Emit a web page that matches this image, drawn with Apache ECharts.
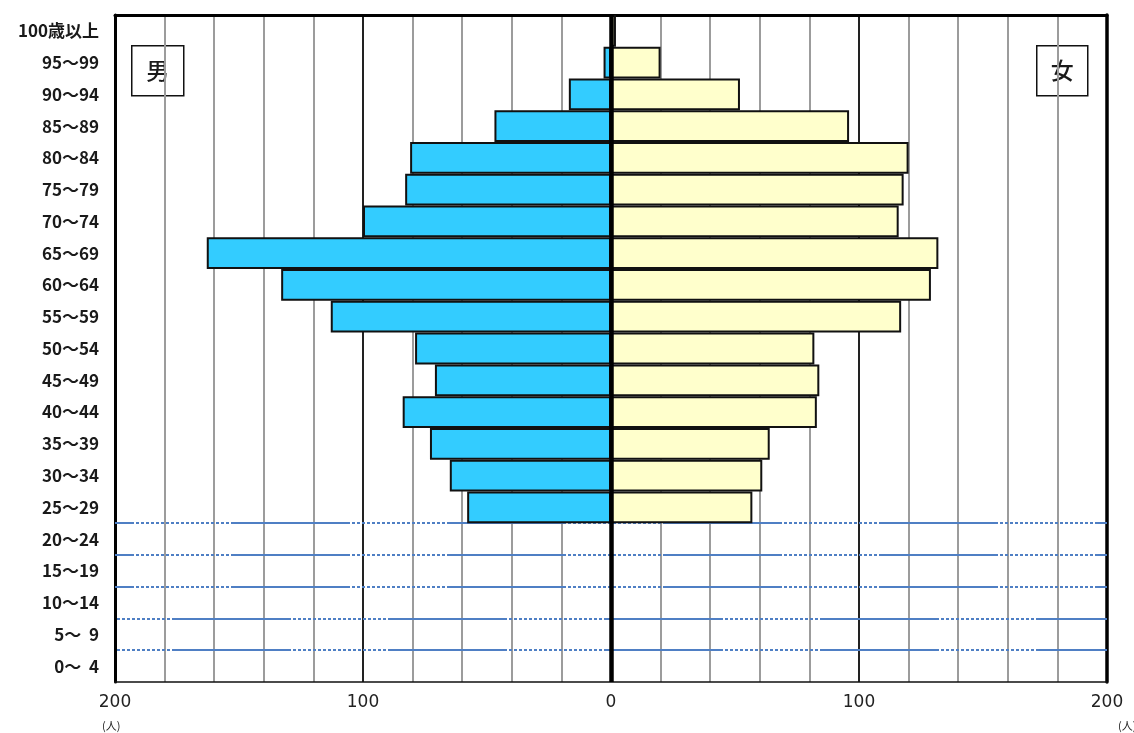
<!DOCTYPE html>
<html>
<head>
<meta charset="utf-8">
<script src="https://cdn.jsdelivr.net/npm/echarts@6/dist/echarts.min.js"></script>
<style>
html,body{margin:0;padding:0;background:#fff;}
#chart{width:1134px;height:733px;}
</style>
</head>
<body>
<div id="chart"></div>
<script>
// Age groups (bottom to top)
const categories = ['0～  4','5～  9','10～14','15～19','20～24','25～29','30～34','35～39','40～44','45～49','50～54','55～59','60～64','65～69','70～74','75～79','80～84','85～89','90～94','95～99','100歳以上'];
// 男 (people)
const maleValues = [null,null,null,null,null,58,65,73,84,71,79,113,133,163,100,83,81,47,17,3,null];
// 女 (people)
const femaleValues = [null,null,null,null,null,57,61,64,83,84,82,117,129,132,116,118,120,96,52,20,2];
// x-axis range / ticks
const xMin = -200, xMax = 200, xInterval = 20, labelStep = 100;
// horizontal divider lines between empty age groups (category boundaries, counted from bottom)
const dividerLevels = [1,2,3,4,5];

const dividerOffsets = [159,159,100,100,100];
const dashPattern = [119,2];
for (let i = 0; i < 19; i++) dashPattern.push(3,2);

const chart = echarts.init(document.getElementById('chart'));
const option = {
  animation: false,
  backgroundColor: '#ffffff',
  grid: {left:115, right:27, top:15, bottom:51, containLabel:false},
  xAxis: [
    {
      type:'value', min:xMin, max:xMax, interval:xInterval,
      axisLine:{show:true, onZero:false, lineStyle:{color:'#111', width:1.5}},
      axisTick:{show:false},
      axisLabel:{
        show:true, margin:12, color:'#222', fontSize:17, fontFamily:'DejaVu Sans',
        formatter: v => (Math.abs(v) % labelStep === 0 ? String(Math.abs(v)) : '')
      },
      splitLine:{show:true, lineStyle:{color:['#222','#9c9c9c','#9c9c9c','#9c9c9c','#9c9c9c'], width:2}}
    },
    {
      type:'value', position:'top', min:xMin, max:xMax, interval:xInterval,
      axisLine:{show:true, onZero:false, lineStyle:{color:'#000', width:3}},
      axisTick:{show:false}, axisLabel:{show:false}, splitLine:{show:false}
    }
  ],
  yAxis: [
    {
      type:'category', data:categories,
      axisLine:{show:true, onZero:false, lineStyle:{color:'#000', width:3}},
      axisTick:{show:false},
      axisLabel:{margin:16, color:'#1a1a1a', fontSize:17, fontWeight:'bold', fontFamily:'"Noto Sans CJK JP", sans-serif'},
      splitLine:{show:false}
    },
    {
      type:'value', position:'right', min:0, max:categories.length,
      axisLine:{show:true, onZero:false, lineStyle:{color:'#000', width:3.5}},
      axisTick:{show:false}, axisLabel:{show:false}, splitLine:{show:false}
    }
  ],
  series: [
    {
      name:'男', type:'bar', xAxisIndex:0, yAxisIndex:0,
      data: maleValues.map(v => v == null ? null : -v),
      barGap:'-100%', barCategoryGap:'0%',
      itemStyle:{color:'#33ccff', borderColor:'#111', borderWidth:2},
      markLine:{
        silent:true, symbol:'none', label:{show:false}, z:10,
        lineStyle:{color:'#000', width:4.5, type:'solid'},
        data:[{xAxis:0}]
      }
    },
    {
      name:'女', type:'bar', xAxisIndex:0, yAxisIndex:0,
      data: femaleValues,
      barGap:'-100%', barCategoryGap:'0%',
      itemStyle:{color:'#ffffcc', borderColor:'#111', borderWidth:2}
    },
    {
      name:'divider', type:'line', xAxisIndex:0, yAxisIndex:1, data:[],
      markLine:{
        silent:true, symbol:'none', label:{show:false}, z:1,
        data: dividerLevels.map((lv,i) => ({
          yAxis: lv,
          lineStyle:{color:'#4f7fc4', width:1.8, type:dashPattern, dashOffset:dividerOffsets[i]}
        }))
      }
    }
  ],
  graphic: [
    {
      type:'group', left:131, top:45, z:100,
      children:[
        {type:'rect', shape:{x:0,y:0,width:52,height:50}, style:{fill:'#fff', stroke:'#111', lineWidth:1.5}},
        {type:'text', x:26, y:25, style:{text:'男', align:'center', verticalAlign:'middle', fontSize:23, fontWeight:500, fontFamily:'"Noto Sans CJK JP"', fill:'#1a1a1a'}}
      ]
    },
    {
      type:'group', left:1036, top:45, z:100,
      children:[
        {type:'rect', shape:{x:0,y:0,width:51,height:50}, style:{fill:'#fff', stroke:'#111', lineWidth:1.5}},
        {type:'text', x:25.5, y:25, style:{text:'女', align:'center', verticalAlign:'middle', fontSize:23, fontWeight:500, fontFamily:'"Noto Sans CJK JP"', fill:'#1a1a1a'}}
      ]
    },
    {type:'text', left:102, top:720, z:100, style:{text:'(人)', fontSize:11, fontFamily:'"Noto Sans CJK JP"', fill:'#222'}},
    {type:'text', left:1118, top:720, z:100, style:{text:'(人)', fontSize:11, fontFamily:'"Noto Sans CJK JP"', fill:'#222'}}
  ]
};
chart.setOption(option);
</script>
</body>
</html>
